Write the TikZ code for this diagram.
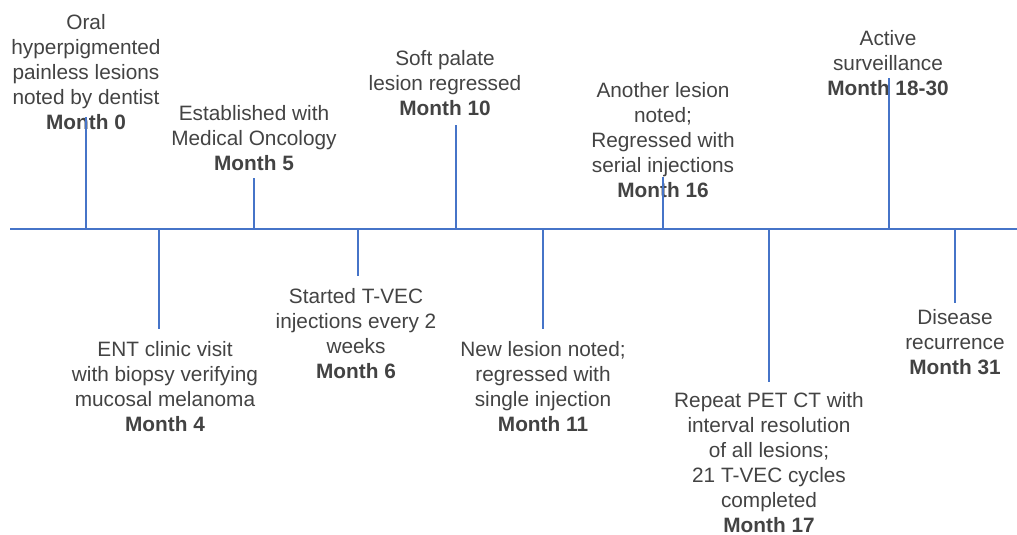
\documentclass[tikz,border=0pt]{standalone}
\usepackage{fontspec}
\setmainfont{Liberation Sans}
\usepackage{tikz}
\definecolor{lineblue}{RGB}{70,116,200}
\definecolor{textgrey}{RGB}{67,67,67}
\tikzset{event node/.style={align=center,text=textgrey,inner sep=0pt,
            font=\fontsize{20.8}{25}\selectfont},
         time line/.style={draw=lineblue,line width=2pt},
            }

\begin{document}
\begin{tikzpicture}[x=1pt,y=-1pt]
    \useasboundingbox (0,0) rectangle (1017,535);

    \node[event node] (m0) at (86,72.5) {Oral\\hyperpigmented\\painless lesions\\noted by dentist\\\textbf{Month 0}};
    \node[event node] (m5) at (254,138) {Established with\\Medical Oncology\\\textbf{Month 5}};
    \node[event node] (m10) at (445,83) {Soft palate\\lesion regressed\\\textbf{Month 10}};
    \node[event node] (m16) at (663,140) {Another lesion\\noted;\\Regressed with\\serial injections\\\textbf{Month 16}};
    \node[event node] (m18) at (888,63) {Active\\surveillance\\\textbf{Month 18-30}};
    \node[event node] (m4) at (165,386.5) {ENT clinic visit\\with biopsy verifying\\mucosal melanoma\\\textbf{Month 4}};
    \node[event node] (m6) at (356,333.5) {Started T-VEC\\injections every 2\\weeks\\\textbf{Month 6}};
    \node[event node] (m11) at (543,386.5) {New lesion noted;\\regressed with\\single injection\\\textbf{Month 11}};
    \node[event node] (m17) at (769,462.5) {Repeat PET CT with\\interval resolution\\of all lesions;\\21 T-VEC cycles\\completed\\\textbf{Month 17}};
    \node[event node] (m31) at (955,342) {Disease\\recurrence\\\textbf{Month 31}};

    % axis
    \coordinate (start) at (10,229);
    \coordinate (end) at (1017,229);
    \foreach \x/\n in {86/0,159/4,254/5,358/6,456/10,543/11,663/16,769/17,889/18,955/31}
        \coordinate (a\n) at (\x,229);
    % tick ends
    \coordinate (t0) at (86,117);
    \coordinate (t4) at (159,329);
    \coordinate (t5) at (254,178);
    \coordinate (t6) at (358,276);
    \coordinate (t10) at (456,125);
    \coordinate (t11) at (543,329);
    \coordinate (t16) at (663,177);
    \coordinate (t17) at (769,382);
    \coordinate (t18) at (889,78);
    \coordinate (t31) at (955,303);

    \path[time line]
    (start) edge (end)
    (a0) edge (t0)
    (a4) edge (t4)
    (a5) edge (t5)
    (a6) edge (t6)
    (a10) edge (t10)
    (a11) edge (t11)
    (a16) edge (t16)
    (a17) edge (t17)
    (a18) edge (t18)
    (a31) edge (t31);
\end{tikzpicture}
\end{document}
